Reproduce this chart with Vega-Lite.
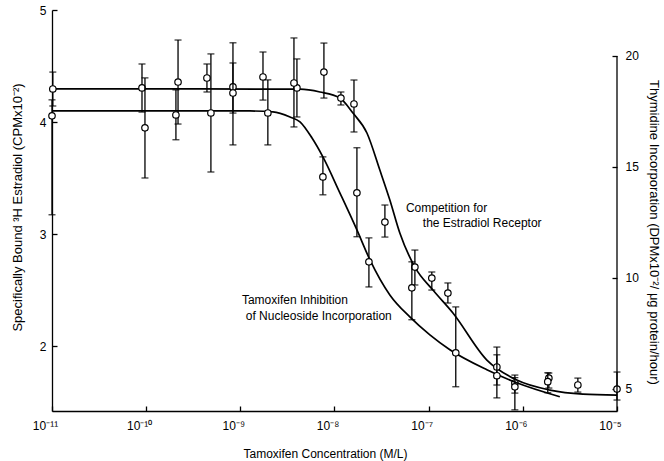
{
  "$schema": "https://vega.github.io/schema/vega-lite/v6.json",
  "width": 565,
  "height": 401,
  "autosize": {"type": "none"},
  "padding": {"left": 52, "top": 10, "right": 47, "bottom": 50},
  "background": "white",
  "config": {
    "view": {"stroke": null},
    "font": "Liberation Sans",
    "axis": {
      "domainColor": "black", "tickColor": "black", "labelColor": "black", "titleColor": "black",
      "labelFont": "Liberation Sans", "titleFont": "Liberation Sans",
      "labelFontSize": 12, "titleFontSize": 13, "titleFontWeight": "normal",
      "grid": false, "domainWidth": 1.3, "tickWidth": 1.3
    }
  },
  "datasets": {
    "curveC": [
      {"c": 1e-11, "v": 4.295}, {"c": 3.72e-10, "v": 4.295}, {"c": 4.3e-9, "v": 4.293}, {"c": 7.0e-9, "v": 4.268},
      {"c": 1.14e-8, "v": 4.214}, {"c": 1.57e-8, "v": 4.08}, {"c": 2.21e-8, "v": 3.902}, {"c": 3.03e-8, "v": 3.571},
      {"c": 3.87e-8, "v": 3.304}, {"c": 4.94e-8, "v": 3.009}, {"c": 7.14e-8, "v": 2.705}, {"c": 1.11e-7, "v": 2.5},
      {"c": 1.81e-7, "v": 2.295}, {"c": 4.15e-7, "v": 1.875}, {"c": 8.63e-7, "v": 1.696}, {"c": 1.94e-6, "v": 1.607},
      {"c": 4.34e-6, "v": 1.571}, {"c": 1e-5, "v": 1.562}
    ],
    "curveI": [
      {"c": 1e-11, "v": 17.52}, {"c": 1.26e-9, "v": 17.52}, {"c": 2.22e-9, "v": 17.48}, {"c": 3.37e-9, "v": 17.25},
      {"c": 4.3e-9, "v": 17.03}, {"c": 5.75e-9, "v": 16.31}, {"c": 7.53e-9, "v": 15.45}, {"c": 1.14e-8, "v": 13.83},
      {"c": 1.73e-8, "v": 12.16}, {"c": 2.38e-8, "v": 10.81}, {"c": 3.87e-8, "v": 9.23}, {"c": 6.31e-8, "v": 8.24},
      {"c": 1.03e-7, "v": 7.43}, {"c": 1.68e-7, "v": 6.76}, {"c": 4.15e-7, "v": 5.86}, {"c": 8.63e-7, "v": 5.27},
      {"c": 2.47e-6, "v": 4.64}
    ],
    "ptsC": [
      {"c": 1.02e-11, "v": 4.295, "lo": 4.143, "hi": 4.446},
      {"c": 9.03e-11, "v": 4.304, "lo": 4.089, "hi": 4.518},
      {"c": 2.18e-10, "v": 4.357, "lo": 3.982, "hi": 4.732},
      {"c": 4.42e-10, "v": 4.393, "lo": 4.268, "hi": 4.518},
      {"c": 8.35e-10, "v": 4.313, "lo": 4.08, "hi": 4.527},
      {"c": 1.74e-9, "v": 4.402, "lo": 4.196, "hi": 4.625},
      {"c": 3.99e-9, "v": 4.304, "lo": 4.045, "hi": 4.563},
      {"c": 7.72e-9, "v": 4.446, "lo": 4.214, "hi": 4.705},
      {"c": 1.17e-8, "v": 4.214, "lo": 4.152, "hi": 4.268},
      {"c": 1.61e-8, "v": 4.161, "lo": 3.911, "hi": 4.375},
      {"c": 3.43e-8, "v": 3.107, "lo": 2.973, "hi": 3.259},
      {"c": 7.14e-8, "v": 2.705, "lo": 2.545, "hi": 2.857},
      {"c": 1.08e-7, "v": 2.607, "lo": 2.5, "hi": 2.661},
      {"c": 1.6e-7, "v": 2.473, "lo": 2.384, "hi": 2.563},
      {"c": 5.3e-7, "v": 1.813, "lo": 1.652, "hi": 1.991},
      {"c": 8.23e-7, "v": 1.67, "lo": 1.58, "hi": 1.741},
      {"c": 1.89e-6, "v": 1.714, "lo": 1.625, "hi": 1.759},
      {"c": 3.84e-6, "v": 1.652, "lo": 1.589, "hi": 1.714},
      {"c": 1e-5, "v": 1.616, "lo": 1.518, "hi": 1.768}
    ],
    "ptsI": [
      {"c": 1e-11, "v": 17.3, "lo": 12.84, "hi": 18.02},
      {"c": 9.71e-11, "v": 16.76, "lo": 14.5, "hi": 19.01},
      {"c": 2.07e-10, "v": 17.34, "lo": 16.22, "hi": 18.47},
      {"c": 4.87e-10, "v": 17.43, "lo": 14.77, "hi": 20.09},
      {"c": 8.35e-10, "v": 18.33, "lo": 15.99, "hi": 20.59},
      {"c": 1.96e-9, "v": 17.43, "lo": 15.99, "hi": 18.92},
      {"c": 3.71e-9, "v": 18.78, "lo": 16.8, "hi": 20.81},
      {"c": 7.53e-9, "v": 14.55, "lo": 13.74, "hi": 15.45},
      {"c": 1.73e-8, "v": 13.83, "lo": 11.85, "hi": 15.86},
      {"c": 2.32e-8, "v": 10.72, "lo": 9.59, "hi": 11.8},
      {"c": 6.63e-8, "v": 9.55, "lo": 8.11, "hi": 10.72},
      {"c": 1.94e-7, "v": 6.62, "lo": 5.09, "hi": 8.69},
      {"c": 5.3e-7, "v": 5.59, "lo": 4.59, "hi": 6.53},
      {"c": 8.23e-7, "v": 5.09, "lo": 4.05, "hi": 5.5},
      {"c": 1.84e-6, "v": 5.32, "lo": 4.82, "hi": 5.72}
    ],
    "textC": [
      {"c": 5.73e-8, "v": 3.232, "t": "Competition for"},
      {"c": 8.67e-8, "v": 3.098, "t": "the Estradiol Receptor"}
    ],
    "textI": [
      {"c": 1.39e-8, "v": 9.01, "t": "Tamoxifen Inhibition"},
      {"c": 4.06e-8, "v": 8.29, "t": "of Nucleoside Incorporation"}
    ],
    "rightDomain": [
      {"c": 1e-5, "v": 4.0, "v2": 20}
    ]
  },
  "layer": [
    {
      "encoding": {
        "x": {
          "field": "c", "type": "quantitative",
          "scale": {"type": "log", "domain": [1e-11, 1e-5], "nice": false},
          "axis": {
            "values": [1e-11, 1e-10, 1e-9, 1e-8, 1e-7, 1e-6, 1e-5],
            "labelExpr": "datum.value < 3e-11 ? '10⁻¹¹' : datum.value < 3e-10 ? '10⁻¹⁰' : datum.value < 3e-9 ? '10⁻⁹' : datum.value < 3e-8 ? '10⁻⁸' : datum.value < 3e-7 ? '10⁻⁷' : datum.value < 3e-6 ? '10⁻⁶' : '10⁻⁵'",
            "title": "Tamoxifen Concentration (M/L)",
            "tickSize": -5, "labelPadding": 14, "labelOffset": -7, "labelFlush": false, "labelOverlap": false,
            "titleX": 273, "titleY": 42, "titleBaseline": "middle", "titleFontSize": 12
          }
        },
        "y": {
          "field": "v", "type": "quantitative",
          "scale": {"domain": [1.42, 5], "nice": false, "zero": false},
          "axis": {
            "orient": "left", "values": [2, 3, 4, 5],
            "title": "Specifically Bound ³H Estradiol (CPMx10⁻²)",
            "tickSize": -5, "labelPadding": 11,
            "titleX": -35, "titleY": 197, "titleBaseline": "middle"
          }
        }
      },
      "layer": [
        {"data": {"name": "curveC"}, "mark": {"type": "line", "color": "black", "strokeWidth": 1.7, "interpolate": "monotone"}},
        {"data": {"name": "ptsC"}, "mark": {"type": "errorbar", "color": "black", "opacity": 1, "ticks": {"size": 7, "strokeWidth": 1.3, "opacity": 1, "color": "black"}, "rule": {"strokeWidth": 1.3, "opacity": 1, "color": "black"}},
          "encoding": {"y": {"field": "lo", "type": "quantitative", "title": "Specifically Bound ³H Estradiol (CPMx10⁻²)"}, "y2": {"field": "hi"}}},
        {"data": {"name": "ptsC"}, "mark": {"type": "point", "shape": "circle", "filled": true, "fill": "white", "stroke": "black", "strokeWidth": 1.2, "size": 42, "opacity": 1}},
        {"data": {"name": "textC"}, "mark": {"type": "text", "align": "left", "baseline": "middle", "fontSize": 12, "font": "Liberation Sans", "color": "black"},
          "encoding": {"text": {"field": "t"}}}
      ]
    },
    {
      "encoding": {
        "x": {
          "field": "c", "type": "quantitative",
          "scale": {"type": "log", "domain": [1e-11, 1e-5], "nice": false},
          "axis": {
            "values": [1e-11, 1e-10, 1e-9, 1e-8, 1e-7, 1e-6, 1e-5],
            "labelExpr": "datum.value < 3e-11 ? '10⁻¹¹' : datum.value < 3e-10 ? '10⁻¹⁰' : datum.value < 3e-9 ? '10⁻⁹' : datum.value < 3e-8 ? '10⁻⁸' : datum.value < 3e-7 ? '10⁻⁷' : datum.value < 3e-6 ? '10⁻⁶' : '10⁻⁵'",
            "title": "Tamoxifen Concentration (M/L)",
            "tickSize": -5, "labelPadding": 14, "labelOffset": -7, "labelFlush": false, "labelOverlap": false,
            "titleX": 273, "titleY": 42, "titleBaseline": "middle", "titleFontSize": 12
          }
        },
        "y": {
          "field": "v", "type": "quantitative",
          "scale": {"domain": [4.0, 22.07], "nice": false, "zero": false},
          "axis": {
            "orient": "right", "values": [5, 10, 15, 20], "domain": false,
            "title": "Thymidine Incorporation (DPMx10⁻²/ μg protein/hour)",
            "tickSize": -5, "labelPadding": 13,
            "titleX": 36, "titleY": 222, "titleBaseline": "middle", "titleAngle": 90
          }
        }
      },
      "layer": [
        {"data": {"name": "rightDomain"}, "mark": {"type": "rule", "color": "black", "strokeWidth": 1.3},
          "encoding": {"y2": {"field": "v2"}}},
        {"data": {"name": "curveI"}, "mark": {"type": "line", "color": "black", "strokeWidth": 1.7, "interpolate": "monotone"}},
        {"data": {"name": "ptsI"}, "mark": {"type": "errorbar", "color": "black", "opacity": 1, "ticks": {"size": 7, "strokeWidth": 1.3, "opacity": 1, "color": "black"}, "rule": {"strokeWidth": 1.3, "opacity": 1, "color": "black"}},
          "encoding": {"y": {"field": "lo", "type": "quantitative", "title": "Thymidine Incorporation (DPMx10⁻²/ μg protein/hour)"}, "y2": {"field": "hi"}}},
        {"data": {"name": "ptsI"}, "mark": {"type": "point", "shape": "circle", "filled": true, "fill": "white", "stroke": "black", "strokeWidth": 1.2, "size": 42, "opacity": 1}},
        {"data": {"name": "textI"}, "mark": {"type": "text", "align": "right", "baseline": "middle", "fontSize": 12, "font": "Liberation Sans", "color": "black"},
          "encoding": {"text": {"field": "t"}}}
      ]
    }
  ],
  "resolve": {"scale": {"y": "independent"}, "axis": {"y": "independent"}}
}
